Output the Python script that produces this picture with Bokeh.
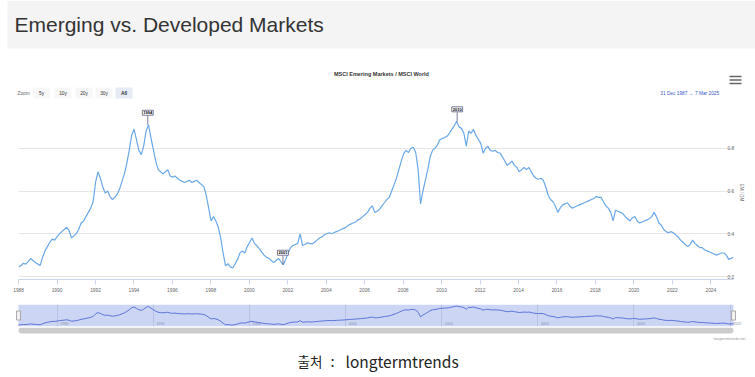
import numpy as np
from bokeh.plotting import figure
from bokeh.models import Range1d, FixedTicker, Title
from bokeh.core.properties import value
from bokeh.embed import file_html
from bokeh.resources import INLINE

# ---------------- data ----------------
start_year = 1987.997   # 31 Dec 1987
end_year = 2025.18      # 7 Mar 2025
ratio = [
    # 1988
    0.245, 0.25, 0.262, 0.258, 0.27, 0.284, 0.275, 0.265,
    # 1989
    0.258, 0.252, 0.29, 0.32, 0.34, 0.36, 0.375, 0.37,
    # 1990
    0.385, 0.40, 0.41, 0.42, 0.43, 0.415, 0.38, 0.39,
    # 1991
    0.40, 0.42, 0.45, 0.46, 0.48, 0.50, 0.52, 0.55,
    # 1992
    0.64, 0.69, 0.66, 0.62, 0.59, 0.60, 0.575, 0.56,
    # 1993
    0.57, 0.585, 0.61, 0.645, 0.68, 0.73, 0.79, 0.86,
    # 1994
    0.89, 0.84, 0.79, 0.77, 0.81, 0.88, 0.91, 0.85,
    # 1995
    0.795, 0.74, 0.70, 0.69, 0.68, 0.69, 0.70, 0.67,
    # 1996
    0.665, 0.67, 0.66, 0.65, 0.645, 0.64, 0.645, 0.65,
    # 1997
    0.64, 0.645, 0.65, 0.64, 0.63, 0.62, 0.58, 0.52,
    # 1998
    0.46, 0.48, 0.46, 0.43, 0.38, 0.31, 0.25, 0.26,
    # 1999
    0.245, 0.24, 0.26, 0.28, 0.31, 0.32, 0.31, 0.34,
    # 2000
    0.36, 0.38, 0.355, 0.344, 0.33, 0.315, 0.30, 0.29,
    # 2001
    0.285, 0.275, 0.265, 0.275, 0.285, 0.27, 0.255, 0.28,
    # 2002
    0.31, 0.335, 0.345, 0.35, 0.355, 0.40, 0.345, 0.35,
    # 2003
    0.358, 0.355, 0.353, 0.36, 0.37, 0.38, 0.385, 0.395,
    # 2004
    0.40, 0.405, 0.40, 0.405, 0.41, 0.414, 0.42, 0.425,
    # 2005
    0.43, 0.44, 0.445, 0.45, 0.455, 0.465, 0.47, 0.48,
    # 2006
    0.49, 0.50, 0.52, 0.53, 0.50, 0.505, 0.515, 0.53,
    # 2007
    0.545, 0.56, 0.57, 0.60, 0.63, 0.66, 0.70, 0.74,
    # 2008
    0.775, 0.79, 0.78, 0.80, 0.805, 0.78, 0.70, 0.54,
    # 2009
    0.60, 0.65, 0.70, 0.76, 0.79, 0.80, 0.815, 0.84,
    # 2010
    0.845, 0.85, 0.856, 0.87, 0.888, 0.905, 0.926, 0.90,
    # 2011
    0.893, 0.87, 0.81, 0.88, 0.87, 0.888, 0.86, 0.842,
    # 2012
    0.823, 0.777, 0.80, 0.809, 0.79, 0.786, 0.79, 0.78,
    # 2013
    0.777, 0.76, 0.74, 0.72, 0.73, 0.74, 0.72, 0.71,
    # 2014
    0.69, 0.70, 0.71, 0.70, 0.71, 0.69, 0.67, 0.66,
    # 2015
    0.655, 0.66, 0.65, 0.62, 0.58, 0.56, 0.55, 0.53,
    # 2016
    0.50, 0.52, 0.535, 0.54, 0.545, 0.53, 0.52, 0.525,
    # 2017
    0.53, 0.535, 0.54, 0.545, 0.55, 0.555, 0.56, 0.565,
    # 2018
    0.575, 0.57, 0.57, 0.55, 0.53, 0.52, 0.50, 0.46,
    # 2019
    0.51, 0.505, 0.50, 0.495, 0.48, 0.47, 0.46, 0.475,
    # 2020
    0.48, 0.46, 0.45, 0.455, 0.46, 0.465, 0.47, 0.48,
    # 2021
    0.50, 0.48, 0.45, 0.44, 0.42, 0.41, 0.405, 0.41,
    # 2022
    0.405, 0.395, 0.385, 0.37, 0.36, 0.35, 0.34, 0.35,
    # 2023
    0.37, 0.355, 0.345, 0.335, 0.335, 0.325, 0.32, 0.315,
    # 2024
    0.31, 0.305, 0.30, 0.305, 0.31, 0.31, 0.30, 0.28,
    # 2025
    0.285, 0.29,
]
years = list(np.linspace(start_year, end_year, len(ratio)))

x_ticks = list(range(1988, 2025, 2))
y_ticks = [0.2, 0.4, 0.6, 0.8]
y_grid = [0.2, 0.4, 0.6, 0.8, 1.0]
nav_ticks = [1990, 1995, 2000, 2005, 2010, 2015, 2020, 2025]

flag_years = [1994.72, 2001.75, 2010.81]
flag_values = [0.91, 0.255, 0.926]
flag_titles = ["1994", "2001", "2010"]

page_title = "Emerging vs. Developed Markets"
chart_title = "MSCI Emering Markets / MSCI World"
y_title = "EM / DM"
zoom_buttons = ["5y", "10y", "20y", "30y", "All"]
date_range_text = "31 Dec 1987   \u2192   7 Mar 2025"
credits = "longtermtrends.net"
caption_source = "출처"
caption_name = "longtermtrends"

W = 755
FONT = value("Liberation Sans")


def blank(h, xr, yr):
    f = figure(width=W, height=h, x_range=xr, y_range=yr,
               output_backend="svg", toolbar_location=None,
               x_axis_location=None, y_axis_location=None,
               min_border_left=0, min_border_right=0,
               min_border_top=0, min_border_bottom=0)
    f.grid.visible = False
    f.outline_line_color = None
    f.background_fill_color = "white"
    f.border_fill_color = "white"
    return f


# ---------------- header ----------------
head = blank(100, Range1d(0, W), Range1d(100, 0))
head.quad(left=7, right=W, top=0, bottom=48, fill_color="#f4f4f4", line_color=None)
head.text(x=[14], y=[23.5], text=[page_title], text_font=FONT, text_font_size="21px",
          text_color="#333333", text_baseline="alphabetic", text_align="left")
head.text(x=[381], y=[73], text=[chart_title], text_font=FONT, text_font_size="5.5px",
          text_font_style="bold", text_color="#333333", text_align="center",
          text_baseline="middle")
head.text(x=[17], y=[92.5], text=["Zoom"], text_font=FONT, text_font_size="4.8px",
          text_color="#666666", text_baseline="middle")
bx = [41, 62.5, 83.5, 103.5, 123.5]
bfill = ["#f7f7f7"] * 4 + ["#e6ebf5"]
head.rect(x=bx, y=[92.5] * 5, width=17, height=11, fill_color=bfill, line_color=None)
head.text(x=bx, y=[92.5] * 5, text=zoom_buttons, text_font=FONT, text_font_size="4.8px",
          text_color="#333333", text_align="center", text_baseline="middle",
          text_font_style=["normal"] * 4 + ["bold"])
head.text(x=[724], y=[93], text=[date_range_text], text_font=FONT, text_font_size="4.8px",
          text_color="#3b55cc", text_align="right", text_baseline="middle")
head.multi_line(xs=[[729, 741]] * 3, ys=[[76, 76], [79.5, 79.5], [83, 83]],
                line_color="#666666", line_width=1.6)

# ---------------- main chart ----------------
main = figure(width=W, height=195, x_range=Range1d(years[0], years[-1]),
              y_range=Range1d(0.186, 1.0), output_backend="svg", toolbar_location=None,
              y_axis_location="right", min_border_left=18, min_border_right=22,
              min_border_top=5, min_border_bottom=16)
main.outline_line_color = None
main.background_fill_color = "white"
main.border_fill_color = "white"
main.xgrid.visible = False
main.ygrid.ticker = FixedTicker(ticks=y_grid)
main.ygrid.grid_line_color = "#e6e6e6"

xa = main.xaxis[0]
xa.ticker = FixedTicker(ticks=x_ticks)
xa.major_label_overrides = {t: str(t) for t in x_ticks}
xa.axis_line_color = "#ccd6eb"
xa.major_tick_line_color = "#ccd6eb"
xa.major_tick_out = 5
xa.major_tick_in = 0
xa.minor_tick_line_color = None
xa.major_label_text_font = "Liberation Sans"
xa.major_label_text_font_size = "4.8px"
xa.major_label_text_color = "#666666"
xa.major_label_standoff = 3

ya = main.yaxis[0]
ya.ticker = FixedTicker(ticks=y_ticks)
ya.axis_line_color = None
ya.major_tick_line_color = None
ya.minor_tick_line_color = None
ya.major_label_standoff = -12
ya.major_label_text_font = "Liberation Sans"
ya.major_label_text_font_size = "4.8px"
ya.major_label_text_color = "#666666"

main.add_layout(Title(text=y_title, align="center", text_font_size="4.5px",
                      text_font="Liberation Sans", text_color="#666666",
                      text_font_style="normal", standoff=2), "right")

main.line(years, ratio, line_color="#6aa8e8", line_width=1.2)

main.ray(x=flag_years, y=flag_values, length=9, angle=np.pi / 2, length_units="screen",
         line_color="#5a5a80", line_width=0.8)
main.text(x=flag_years, y=flag_values, text=flag_titles, y_offset=-12,
          text_align="center", text_baseline="middle", text_font=FONT,
          text_font_size="4px", text_font_style="bold", text_color="#000000",
          background_fill_color="white", border_line_color="#5a5a80",
          border_line_width=0.8, padding=1)

# ---------------- navigator ----------------
ppy = 715.0 / (years[-1] - years[0])
nav = blank(32, Range1d(years[0] - 18 / ppy, years[-1] + 22 / ppy), Range1d(0.19, 0.98))
nav.min_border_top = 9
nav.min_border_bottom = 1
nav.quad(left=years[0], right=years[-1], bottom=0.19, top=0.98,
         fill_color="#cdd5f5", line_color=None)
nav.vspan(x=nav_ticks, line_color="#b4bde0", line_width=0.8)
nav.text(x=nav_ticks, y=[0.19] * len(nav_ticks), text=[str(t) for t in nav_ticks],
         x_offset=3, y_offset=-2, text_font=FONT, text_font_size="3.8px",
         text_color="#8890b0", text_baseline="bottom", text_align="left")
nav.line(years, ratio, line_color="#5b74d6", line_width=1)
nav.rect(x=[years[0], years[-1]], y=[0.585, 0.585], width=4, height=9,
         width_units="screen", height_units="screen",
         fill_color="#f2f2f2", line_color="#999999", line_width=0.8)

# ---------------- bottom ----------------
bot = blank(50, Range1d(0, W), Range1d(377, 327))
bot.line(x=[21, 730], y=[330, 330], line_color="#cccccc", line_width=6, line_cap="round")
bot.text(x=[745], y=[338.5], text=[credits], text_font=FONT, text_font_size="3.8px",
         text_color="#999999", text_align="right", text_baseline="middle")
bot.text(x=[297], y=[360], text=[caption_source], text_font=value("Noto Sans CJK KR"),
         text_font_size="13.5px", text_color="#222222", text_align="left",
         text_baseline="middle")
bot.text(x=[332], y=[360], text=[":"], text_font=value("Noto Sans CJK KR"),
         text_font_size="15px", text_color="#222222", text_align="center",
         text_baseline="middle")
bot.text(x=[345], y=[360], text=[caption_name], text_font=value("Noto Sans CJK KR"),
         text_font_size="15.5px", text_color="#222222", text_align="left",
         text_baseline="middle")

open("out.html", "w").write(file_html([head, main, nav, bot], INLINE))
